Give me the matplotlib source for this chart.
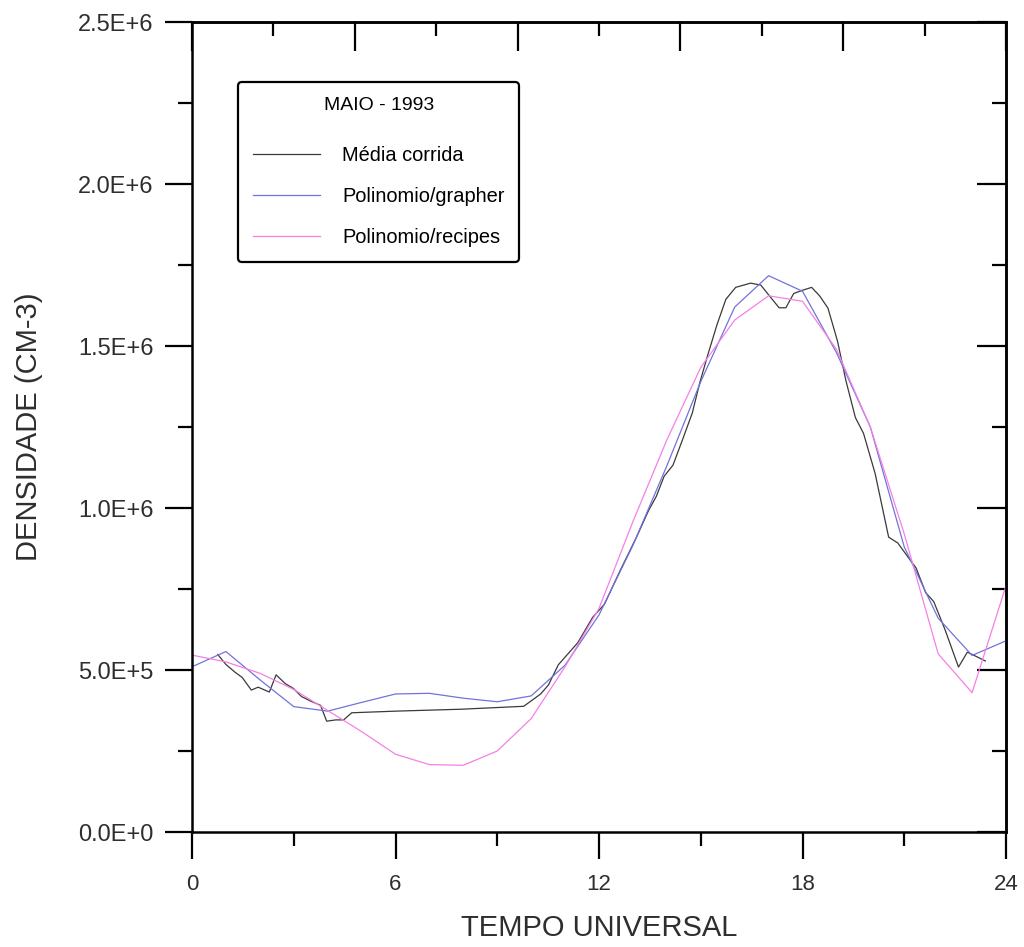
import matplotlib
matplotlib.use('Agg')
import matplotlib.pyplot as plt
from matplotlib.ticker import MultipleLocator

# Média corrida (running mean)
media_h = [0.76, 1.0, 1.27, 1.48, 1.75, 1.95, 2.28, 2.48, 2.75, 2.99,
           3.23, 3.52, 3.79, 3.97, 4.24, 4.47, 4.71, 6.0, 7.95, 9.78,
           10.28, 10.51, 10.8, 11.38, 11.81, 12.16, 12.62, 13.11, 13.46, 13.69,
           13.92, 14.18, 14.46, 14.75, 14.97, 15.2, 15.48, 15.74, 16.03, 16.47,
           16.77, 17.0, 17.31, 17.51, 17.74, 18.0, 18.27, 18.51, 18.75, 19.03,
           19.28, 19.56, 19.8, 20.14, 20.54, 20.81, 21.17, 21.35, 21.63, 21.87,
           22.2, 22.6, 22.86, 23.1, 23.39]
media_v = [0.548, 0.517, 0.493, 0.477, 0.438, 0.447, 0.432, 0.485, 0.458, 0.443,
           0.418, 0.403, 0.391, 0.342, 0.346, 0.346, 0.368, 0.373, 0.379, 0.388,
           0.426, 0.454, 0.516, 0.585, 0.662, 0.703, 0.806, 0.911, 0.992, 1.036,
           1.098, 1.132, 1.21, 1.293, 1.386, 1.47, 1.566, 1.644, 1.681, 1.694,
           1.688, 1.658, 1.618, 1.618, 1.662, 1.672, 1.681, 1.654, 1.617, 1.516,
           1.393, 1.279, 1.23, 1.107, 0.91, 0.892, 0.84, 0.815, 0.739, 0.711,
           0.625, 0.509, 0.555, 0.543, 0.528]

# hourly polynomial fits
horas = list(range(25))
grapher_v = [0.51, 0.557, 0.47, 0.387, 0.373, 0.40, 0.426, 0.428, 0.413, 0.402,
             0.42, 0.515, 0.67, 0.885, 1.13, 1.39, 1.62, 1.717, 1.669, 1.48,
             1.25, 0.88, 0.66, 0.545, 0.59]
recipes_v = [0.546, 0.525, 0.49, 0.44, 0.375, 0.31, 0.24, 0.208, 0.206, 0.25,
             0.35, 0.51, 0.69, 0.958, 1.21, 1.434, 1.58, 1.655, 1.638, 1.49,
             1.25, 0.92, 0.55, 0.43, 0.76]

media_v = [v * 1e6 for v in media_v]
grapher_v = [v * 1e6 for v in grapher_v]
recipes_v = [v * 1e6 for v in recipes_v]

ytick_vals = [0, 0.5e6, 1.0e6, 1.5e6, 2.0e6, 2.5e6]
ytick_labels = ['0.0E+0', '5.0E+5', '1.0E+6', '1.5E+6', '2.0E+6', '2.5E+6']
xtick_vals = [0, 6, 12, 18, 24]

fonte = ['Liberation Sans', 'DejaVu Sans']
cinza = '#2e2e2e'

fig = plt.figure(figsize=(10.24, 9.47), dpi=100)
ax = fig.add_axes([192/1024, 115/947, 814/1024, 810/947])

ax.plot(media_h, media_v, color='#3a3a3a', lw=0.9, label='Média corrida')
ax.plot(horas, grapher_v, color='#7272dc', lw=0.9, label='Polinomio/grapher')
ax.plot(horas, recipes_v, color='#f580e4', lw=0.9, label='Polinomio/recipes')

ax.set_xlim(0, 24)
ax.set_ylim(0, 2.5e6)
ax.set_xticks(xtick_vals)
ax.set_xticklabels([str(x) for x in xtick_vals], family=fonte, fontsize=16, color=cinza)
ax.set_yticks(ytick_vals)
ax.set_yticklabels(ytick_labels, family=fonte, fontsize=17, color=cinza)
ax.xaxis.set_minor_locator(MultipleLocator(3))
ax.yaxis.set_minor_locator(MultipleLocator(0.25e6))
ax.tick_params(which='major', direction='out', length=19.5, width=1.6)
ax.tick_params(which='minor', direction='out', length=10, width=1.6)
ax.tick_params(axis='x', which='major', pad=11)
ax.tick_params(axis='y', which='major', pad=8)

for s in ax.spines.values():
    s.set_linewidth(1.8)

# top and right axes: inward ticks, no labels
top = ax.secondary_xaxis('top')
top.set_xticks([0, 4.8, 9.6, 14.4, 19.2, 24])
top.xaxis.set_minor_locator(MultipleLocator(2.4))
top.tick_params(which='major', direction='in', length=21, width=1.6, labeltop=False)
top.tick_params(which='minor', direction='in', length=10, width=1.6)
top.spines['top'].set_linewidth(1.8)

right = ax.secondary_yaxis('right')
right.set_yticks(ytick_vals)
right.yaxis.set_minor_locator(MultipleLocator(0.25e6))
right.tick_params(which='major', direction='in', length=21, width=1.6, labelright=False)
right.tick_params(which='minor', direction='in', length=10, width=1.6)
right.spines['right'].set_linewidth(1.8)

ax.set_xlabel('TEMPO UNIVERSAL', family=fonte, fontsize=21, color=cinza)
ax.xaxis.set_label_coords(0.5, -0.101)
ax.set_ylabel('DENSIDADE (CM-3)', family=fonte, fontsize=21, color=cinza)
ax.yaxis.set_label_coords(-0.183, 0.5)

leg = ax.legend(title='MAIO - 1993', loc='upper left', bbox_to_anchor=(0.0565, 0.926),
                prop={'family': fonte, 'size': 14.4},
                title_fontproperties={'family': fonte, 'size': 14},
                frameon=True, fancybox=True, handlelength=3.35, handletextpad=1.1,
                labelspacing=1.1, borderpad=0.75, borderaxespad=0)
leg.get_frame().set_edgecolor('black')
leg.get_frame().set_linewidth(1.6)
leg.get_frame().set_alpha(1)
leg._legend_box.sep = 23

fig.savefig('out.png', dpi=100)
